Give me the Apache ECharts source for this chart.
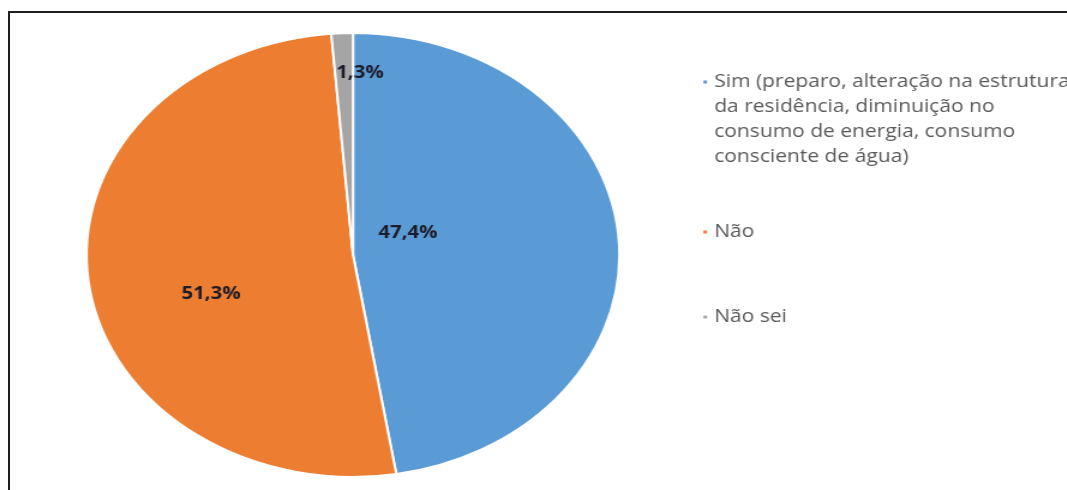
<!DOCTYPE html>
<html>
<head>
<meta charset="utf-8">
<script src="https://cdn.jsdelivr.net/npm/echarts@6/dist/echarts.min.js"></script>
<style>
  html, body { margin: 0; padding: 0; width: 1067px; height: 490px; overflow: hidden; background: #fff; }
  #frame { position: absolute; left: 8px; top: 11px; width: 1200px; height: 600px;
           border-left: 2px solid #1e1e1e; border-top: 2px solid #1e1e1e; }
  #chart { position: absolute; left: 0; top: 0; height: 490px; transform-origin: 0 0; }
</style>
</head>
<body>
<div id="frame"></div>
<div id="chart"></div>
<script>
// Survey answers and their shares (%)
const categories = [
  'Sim (preparo, alteração na estrutura\nda residência, diminuição no\nconsumo de energia, consumo\nconsciente de água)',
  'Não',
  'Não sei'
];
const values = [47.4, 51.3, 1.3];
const colors = ['#5b9bd5', '#ed7d31', '#a5a5a5'];

// The figure is drawn wider than tall: the whole chart is stretched horizontally.
const STRETCH = 1.2;
const W = 1067 / STRETCH, H = 490;
const el = document.getElementById('chart');
el.style.width = W + 'px';
el.style.transform = 'scaleX(' + STRETCH + ')';

const R = 222, CX = 353 / STRETCH, CY = 255;
// label anchors, as offsets from the pie centre in units of the radius
const labelSpots = [[0.206, -0.097], [-0.533, 0.176], [0.026, -0.818]];

const LINE_H = 25;
const legendText = { fontFamily: 'Open Sans', fontSize: 17.5, lineHeight: LINE_H, color: '#595959' };

// One legend per answer; the marker sits beside the first line of a wrapped name,
// so blank lines are put above it to balance the text block around the marker.
function legendFor(i, markerY) {
  const lines = categories[i].split('\n').length;
  const padLines = lines - 1;
  const totalLines = lines + padLines;
  return {
    data: [categories[i]], left: 701 / STRETCH, top: markerY - totalLines * LINE_H / 2, padding: 0,
    icon: 'rect', itemWidth: 5, itemHeight: 5, selectedMode: false,
    formatter: name => '\n'.repeat(padLines) + name,
    textStyle: legendText
  };
}

const chart = echarts.init(el, null, { renderer: 'canvas', width: W, height: H });
chart.setOption({
  animation: false,
  color: colors,
  legend: [
    legendFor(0, 82),
    legendFor(1, 232),
    legendFor(2, 317)
  ],
  series: [{
    type: 'pie',
    center: [CX, CY],
    radius: R,
    startAngle: 90,
    clockwise: true,
    itemStyle: { borderColor: '#ffffff', borderWidth: 2 },
    label: {
      show: true,
      position: 'inside',
      fontFamily: 'Open Sans',
      fontWeight: 'bold',
      fontSize: 17,
      color: '#1c1c2a',
      formatter: p => p.value.toFixed(1).replace('.', ',') + '%'
    },
    labelLine: { show: false },
    labelLayout: p => ({
      x: CX + labelSpots[p.dataIndex][0] * R,
      y: CY + labelSpots[p.dataIndex][1] * R,
      align: 'center',
      verticalAlign: 'middle'
    }),
    emphasis: { disabled: true },
    data: categories.map((name, i) => ({ name: name, value: values[i] }))
  }]
});
</script>
</body>
</html>
